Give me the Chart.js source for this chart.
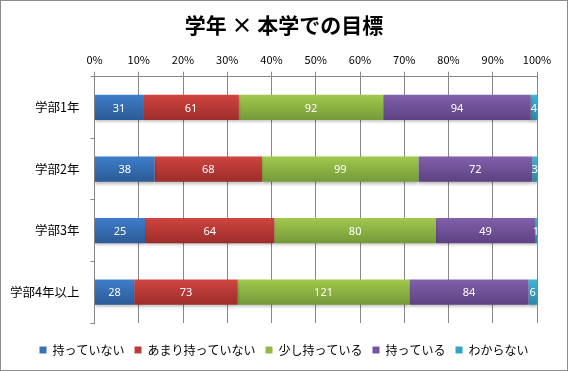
<!DOCTYPE html>
<html>
<head>
<meta charset="utf-8">
<script src="https://cdn.jsdelivr.net/npm/chart.js@4"></script>
<style>
  html, body { margin: 0; padding: 0; background: #fff; }
  #wrap { width: 566px; height: 369px; border: 1px solid #8c8c8c; }
</style>
</head>
<body>
<div id="wrap"><canvas id="chart" width="566" height="369"></canvas></div>
<script>
const categories = ["学部1年", "学部2年", "学部3年", "学部4年以上"]
const seriesNames = ["持っていない", "あまり持っていない", "少し持っている", "持っている", "わからない"]
const notHave = [31, 38, 25, 28]
const notMuch = [61, 68, 64, 73]
const aLittle = [92, 99, 80, 121]
const have = [94, 72, 49, 84]
const dontKnow = [4, 3, 1, 6]
const percentTicks = [0, 10, 20, 30, 40, 50, 60, 70, 80, 90, 100]

const rawSeries = [notHave, notMuch, aLittle, have, dontKnow]
// top / bottom shades of each bar (Excel 2007 gradient look)
const shades = [
  ["#3e7dca", "#2c5b96"],
  ["#cf4440", "#9c2d2a"],
  ["#a0c94c", "#76993a"],
  ["#8160ab", "#5d4282"],
  ["#3cb4d6", "#2a89a5"]
]
const legendColors = ["#3a72b8", "#be3b38", "#92b84a", "#7455a0", "#35a3c3"]

const totals = categories.map((c, i) => rawSeries.reduce((s, arr) => s + arr[i], 0))
const toPercent = arr => arr.map((v, i) => v / totals[i] * 100)

Chart.defaults.font.family = '"Noto Sans CJK JP", "Noto Sans", sans-serif'
Chart.defaults.color = "#000"

function barGradient(ctx, k) {
  const chart = ctx.chart
  const y = chart.scales && chart.scales.y
  if (!chart.chartArea || !y || ctx.dataIndex === undefined) return shades[k][0]
  const cy = y.getPixelForValue(ctx.dataIndex)
  const half = 12.5
  const g = chart.ctx.createLinearGradient(0, cy - half, 0, cy + half)
  g.addColorStop(0, shades[k][0])
  g.addColorStop(1, shades[k][1])
  return g
}

const valueLabels = {
  id: "valueLabels",
  afterDatasetsDraw(chart) {
    const ctx = chart.ctx
    ctx.save()
    ctx.font = '11px "Noto Sans", "DejaVu Sans", sans-serif'
    ctx.fillStyle = "#fff"
    ctx.textAlign = "center"
    ctx.textBaseline = "middle"
    chart.data.datasets.forEach((ds, k) => {
      chart.getDatasetMeta(k).data.forEach((bar, i) => {
        const cx = (bar.x + bar.base) / 2
        ctx.fillText(String(rawSeries[k][i]), cx, bar.y + 1)
      })
    })
    ctx.restore()
  }
}

const barShadow = {
  id: "barShadow",
  beforeDatasetsDraw(chart) {
    const ctx = chart.ctx
    ctx.save()
    ctx.shadowColor = "rgba(0,0,0,0.28)"
    ctx.shadowBlur = 3
    ctx.shadowOffsetY = 2
  },
  afterDatasetsDraw(chart) {
    chart.ctx.restore()
  }
}

// empty axes used only as spacers, so title and legend stay centred on the whole canvas
const spacer = (axis, position, size) => ({
  type: "linear",
  axis,
  position,
  display: true,
  ticks: { display: false },
  grid: { display: false },
  border: { display: false },
  afterFit: s => { if (axis === "x") s.height = size; else s.width = size }
})

new Chart(document.getElementById("chart"), {
  type: "bar",
  data: {
    labels: categories,
    datasets: rawSeries.map((arr, k) => ({
      label: seriesNames[k],
      data: toPercent(arr),
      xAxisID: "x",
      yAxisID: "y",
      backgroundColor: ctx => barGradient(ctx, k),
      borderWidth: 0,
      barPercentage: 0.41,
      categoryPercentage: 1
    }))
  },
  options: {
    indexAxis: "y",
    responsive: false,
    animation: false,
    layout: { padding: { left: 0, right: 0, top: 0, bottom: 4 } },
    plugins: {
      title: {
        display: true,
        text: "学年 × 本学での目標",
        color: "#000",
        font: { size: 21, weight: "bold" },
        padding: { top: 11, bottom: 13.5 }
      },
      legend: {
        position: "bottom",
        labels: {
          boxWidth: 7,
          boxHeight: 7,
          padding: 10,
          color: "#000",
          font: { size: 12 },
          generateLabels: chart => seriesNames.map((name, k) => ({
            text: name,
            fillStyle: legendColors[k],
            strokeStyle: legendColors[k],
            lineWidth: 0,
            datasetIndex: k
          }))
        }
      },
      tooltip: { enabled: false }
    },
    scales: {
      x: {
        type: "linear",
        position: "top",
        stacked: true,
        min: 0,
        max: 100,
        afterBuildTicks: s => { s.ticks = percentTicks.map(v => ({ value: v })) },
        afterFit: s => { s.height = 26 },
        ticks: {
          callback: v => v + "%",
          font: { size: 11 },
          padding: 5,
          maxRotation: 0
        },
        grid: { color: "#868686", tickLength: 5, lineWidth: 1 },
        border: { color: "#868686" }
      },
      y: {
        type: "category",
        stacked: true,
        afterFit: s => { s.width = 93.5 },
        ticks: { font: { size: 12.5 }, padding: 11 },
        grid: {
          offset: true,
          drawOnChartArea: false,
          tickLength: 4,
          color: "#868686"
        },
        border: { color: "#868686" }
      },
      padBottom: spacer("x", "bottom", 11),
      padRight: spacer("y", "right", 30)
    }
  },
  plugins: [barShadow, valueLabels]
})
</script>
</body>
</html>
